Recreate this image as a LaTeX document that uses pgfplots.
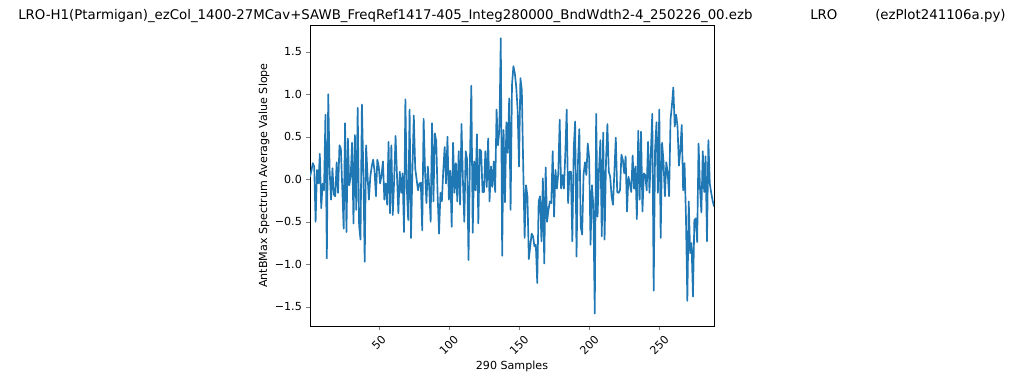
\documentclass[border=0pt]{standalone}
\usepackage{fontspec}
\setmainfont{DejaVu Sans}
\usepackage{pgfplots}
\pgfplotsset{compat=1.18}
\definecolor{mplblue}{HTML}{1F77B4}
\newcommand\mm{\hbox{\char"2212\relax}}
\begin{document}
\begin{tikzpicture}
\path[use as bounding box] (0pt,0pt) rectangle (737.28pt,275.04pt);
\begin{scope}[every node/.style={anchor=base west, font=\fontsize{9.6}{11.5}\selectfont, inner sep=0pt}]
\node at (12.96pt,260.64pt) {LRO-H1(Ptarmigan)\_ezCol\_1400-27MCav+SAWB\_FreqRef1417-405\_Integ280000\_BndWdth2-4\_250226\_00.ezb};
\node at (583.2pt,260.64pt) {LRO};
\node at (630pt,260.64pt) {(ezPlot241106a.py)};
\end{scope}
\begin{axis}[
  at={(223.2pt,40.32pt)}, anchor=south west,
  scale only axis, width=290.88pt, height=216.72pt,
  xmin=1, xmax=289, ymin=-1.726, ymax=1.815,
  every axis/.append style={line width=0.576pt},
  tick align=outside, tick pos=left, major tick length=2.8pt,
  xtick={50,100,150,200,250},
  xticklabels={\rotatebox{45}{50},\rotatebox{45}{100},\rotatebox{45}{150},\rotatebox{45}{200},\rotatebox{45}{250}},
  xticklabel style={anchor=north, inner sep=0pt, yshift=-2.8pt},
  ytick={-1.5,-1,-0.5,0,0.5,1,1.5},
  yticklabels={\mm1.5,\mm1.0,\mm0.5,0.0,0.5,1.0,1.5},
  yticklabel style={inner sep=0pt, xshift=-2.8pt},
  tick label style={font=\fontsize{8}{9.6}\selectfont},
  label style={font=\fontsize{8}{9.6}\selectfont},
  xlabel={290 Samples},
  xlabel style={at={(axis description cs:0.5,-0.136)}, anchor=center},
  ylabel={AntBMax Spectrum Average Value Slope},
  ylabel style={at={(axis description cs:-0.114,0.5)}, anchor=center},
]
\addplot[color=mplblue, line width=1.2pt, mark=none, line join=round] coordinates {
(1,0.03)(2,0.10)(3,0.19)(4,0.15)(5,-0.50)(6,0.11)(7,-0.05)(8,0.30)(9,-0.34)(10,-0.05)
(11,-0.13)(12,0.76)(13,-0.93)(14,1.00)(15,0.10)(16,-0.24)(17,0.13)(18,-0.18)(19,-0.20)(20,0.20)
(21,-0.16)(22,0.40)(23,0.36)(24,-0.10)(25,-0.58)(26,0.66)(27,-0.62)(28,0.48)(29,-0.07)(30,0.03)
(31,0.43)(32,-0.52)(33,0.52)(34,-0.36)(35,0.84)(36,-0.54)(37,-0.71)(38,0.88)(39,0.11)(40,-0.97)
(41,0.40)(42,0.05)(43,-0.24)(44,0.03)(45,0.15)(46,0.23)(47,0.10)(48,-0.20)(49,0.23)(50,0.15)
(51,-0.05)(52,0.05)(53,0.21)(54,-0.24)(55,-0.05)(56,-0.30)(57,0.44)(58,-0.40)(59,0.40)(60,-0.42)
(61,-0.01)(62,0.51)(63,0.05)(64,-0.40)(65,0.09)(66,-0.16)(67,0.07)(68,-0.62)(69,0.94)(70,-0.10)
(71,-0.48)(72,0.82)(73,-0.69)(74,0.10)(75,0.75)(76,0.13)(77,0.00)(78,-0.13)(79,-0.05)(80,-0.04)
(81,-0.60)(82,0.71)(83,0.10)(84,-0.28)(85,0.15)(86,-0.10)(87,-0.50)(88,0.66)(89,-0.26)(90,0.54)
(91,0.45)(92,-0.20)(93,-0.64)(94,-0.16)(95,-0.26)(96,0.10)(97,0.38)(98,-0.05)(99,0.50)(100,-0.24)
(101,0.10)(102,-0.56)(103,0.43)(104,-0.16)(105,0.19)(106,-0.26)(107,0.33)(108,-0.30)(109,0.65)(110,-0.01)
(111,-0.50)(112,0.33)(113,0.23)(114,-0.95)(115,0.20)(116,1.10)(117,-0.63)(118,0.21)(119,-0.13)(120,0.53)
(121,-0.52)(122,0.35)(123,0.33)(124,-0.15)(125,-0.15)(126,0.33)(127,-0.09)(128,0.48)(129,-0.26)(130,0.15)
(131,-0.09)(132,0.21)(133,-0.15)(134,0.82)(135,0.40)(136,0.58)(137,1.66)(138,-0.90)(139,0.58)(140,-0.27)
(141,0.67)(142,0.31)(143,0.95)(144,-0.36)(145,1.11)(146,1.33)(147,1.25)(148,1.09)(149,0.82)(150,0.15)
(151,1.19)(152,1.05)(153,0.15)(154,-0.69)(155,-0.07)(156,-0.20)(157,-0.94)(158,-0.79)(159,-0.64)(160,-0.67)
(161,-0.79)(162,-0.77)(163,-1.22)(164,-0.26)(165,-0.20)(166,-0.73)(167,0.01)(168,-0.99)(169,0.14)(170,-0.50)
(171,-0.36)(172,-0.26)(173,-0.28)(174,0.33)(175,-0.44)(176,0.11)(177,-0.11)(178,0.07)(179,0.70)(180,-0.11)
(181,0.05)(182,-0.11)(183,0.30)(184,0.82)(185,-0.28)(186,0.09)(187,0.09)(188,-0.73)(189,0.36)(190,0.68)
(191,-0.91)(192,0.19)(193,0.59)(194,-0.56)(195,-0.65)(196,0.05)(197,0.20)(198,0.05)(199,0.42)(200,0.25)
(201,-0.77)(202,-0.07)(203,-0.32)(204,-1.58)(205,0.77)(206,-0.44)(207,0.10)(208,0.46)(209,-0.67)(210,0.55)
(211,-0.71)(212,0.20)(213,0.65)(214,0.09)(215,0.03)(216,-0.20)(217,-0.30)(218,0.10)(219,0.49)(220,-0.15)
(221,-0.16)(222,-0.13)(223,0.29)(224,0.23)(225,0.07)(226,0.27)(227,-0.38)(228,0.03)(229,-0.05)(230,-0.15)
(231,0.28)(232,-0.11)(233,0.15)(234,-0.47)(235,0.57)(236,-0.24)(237,0.56)(238,-0.38)(239,0.07)(240,0.05)
(241,-0.13)(242,0.44)(243,-0.16)(244,0.32)(245,0.77)(246,-1.31)(247,0.35)(248,0.67)(249,-0.16)(250,0.82)
(251,-0.69)(252,0.43)(253,0.21)(254,-0.20)(255,0.20)(256,0.07)(257,-0.20)(258,0.70)(259,0.87)(260,1.08)
(261,0.62)(262,0.76)(263,0.62)(264,0.16)(265,0.35)(266,0.64)(267,-0.13)(268,0.19)(269,-0.44)(270,-1.43)
(271,-0.26)(272,-0.87)(273,-0.75)(274,-1.38)(275,-0.48)(276,-0.46)(277,-0.74)(278,0.42)(279,-0.10)(280,-0.39)
(281,0.33)(282,-0.15)(283,0.27)(284,-0.73)(285,0.46)(286,-0.05)(287,-0.16)(288,-0.25)(289,-0.32)
};
\end{axis}
\end{tikzpicture}
\end{document}
